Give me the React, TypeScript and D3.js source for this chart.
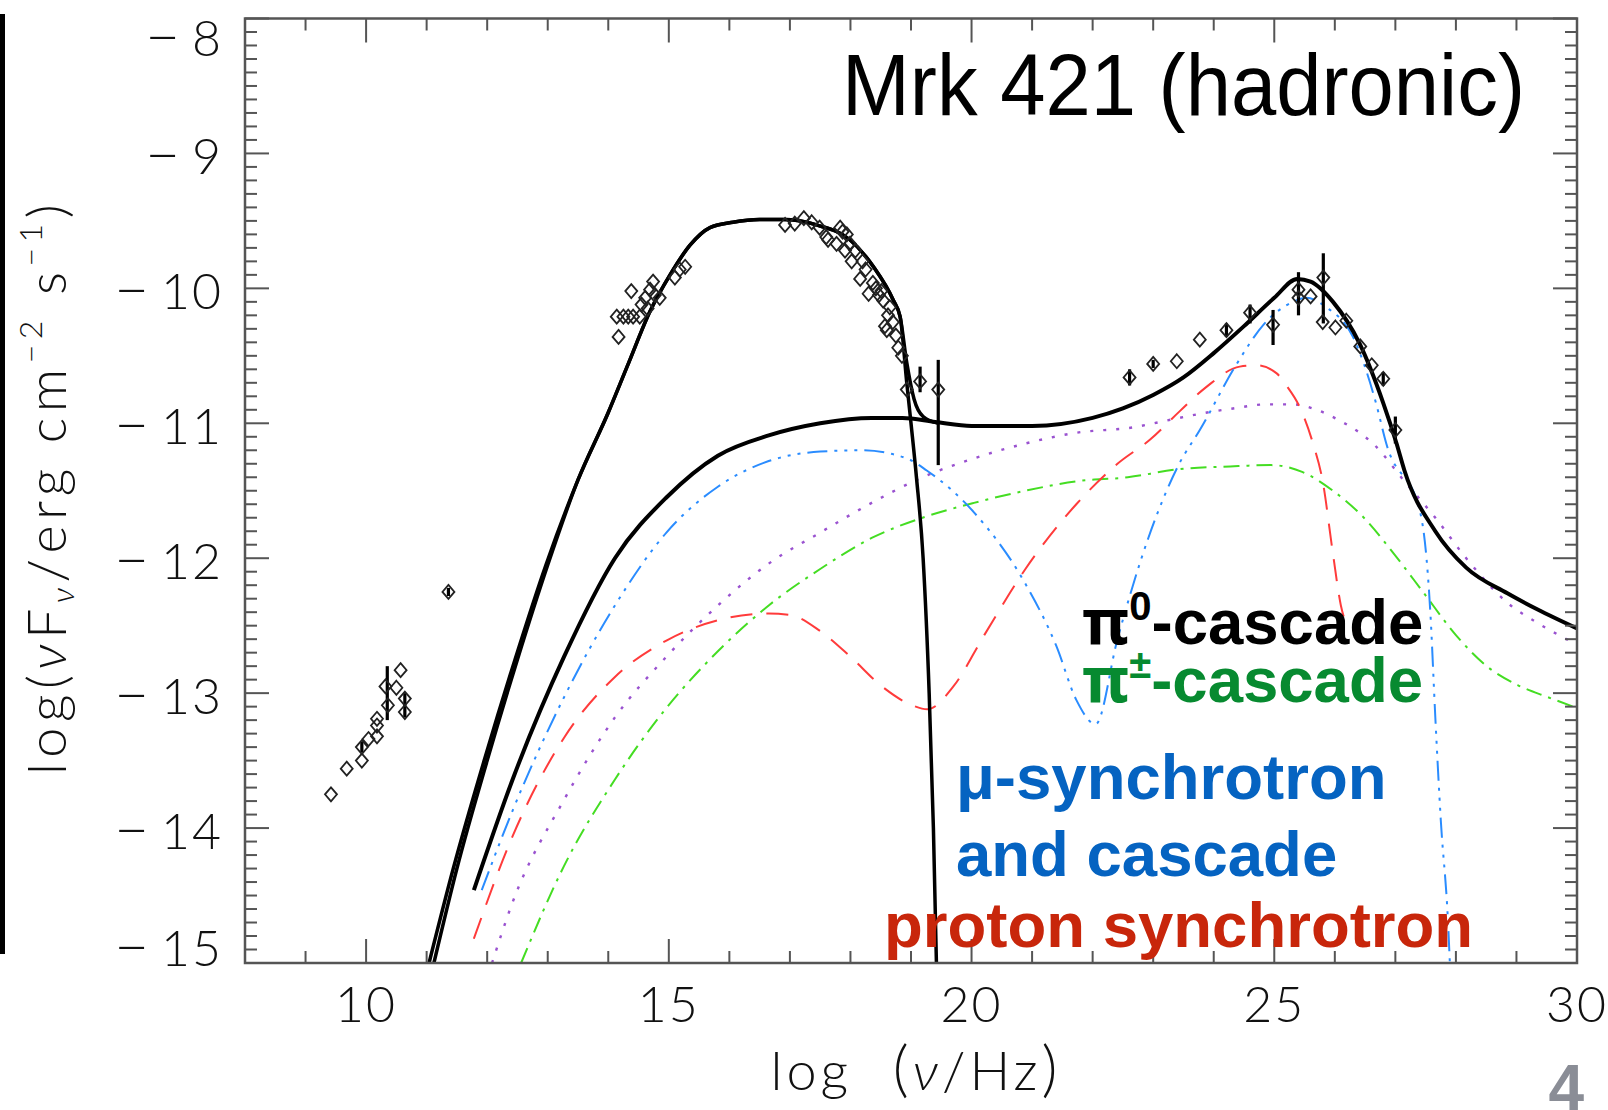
import React from "react";
import * as d3 from "d3";

// ---------- axis setup ----------
const X_DOMAIN: [number, number] = [8, 30];
const Y_DOMAIN: [number, number] = [-15, -8];
const X_MAJOR = [10, 15, 20, 25, 30];
const Y_MAJOR = [-15, -14, -13, -12, -11, -10, -9, -8];

// ---------- model curves [log nu, log nuFnu] ----------
const electronSynchrotron: [number, number][] = [
  [11.12, -15.0], [11.5, -14.3], [12.0, -13.5], [12.5, -12.75], [13.0, -12.05],
  [13.5, -11.42], [14.0, -10.92], [14.33, -10.56], [14.69, -10.17], [15.02, -9.9],
  [15.35, -9.68], [15.68, -9.55], [16.06, -9.51], [16.5, -9.49], [16.89, -9.49],
  [17.44, -9.53], [17.99, -9.64], [18.38, -9.84], [18.71, -10.09], [18.82, -10.21],
  [18.93, -10.7], [19.0, -11.0], [19.09, -11.4], [19.2, -12.0], [19.3, -13.0],
  [19.37, -14.0], [19.42, -15.0],
];
const totalModel: [number, number][] = [
  [11.04, -15.0], [11.44, -14.3], [11.95, -13.5], [12.46, -12.75], [12.97, -12.05],
  [13.5, -11.42], [14.0, -10.92], [14.33, -10.56], [14.69, -10.17], [15.02, -9.9],
  [15.35, -9.68], [15.68, -9.55], [16.06, -9.51], [16.5, -9.49], [16.89, -9.49],
  [17.44, -9.53], [17.99, -9.64], [18.38, -9.84], [18.71, -10.09], [18.82, -10.21],
  [18.93, -10.55], [19.05, -10.82], [19.2, -10.95], [19.45, -11.0],
];
const hadronicTotal: [number, number][] = [
  [11.78, -14.46], [12.42, -13.64], [13.27, -12.73], [14.11, -12.0], [14.96, -11.55],
  [15.81, -11.24], [16.65, -11.09], [17.5, -11.0], [18.35, -10.96], [18.86, -10.96],
  [19.4, -10.99], [20.0, -11.02], [21.0, -11.02], [22.0, -10.96], [22.5, -10.89],
  [23.0, -10.79], [23.5, -10.66], [24.0, -10.48], [24.5, -10.28], [25.0, -10.07],
  [25.38, -9.93], [25.6, -9.95], [25.97, -10.1], [26.41, -10.41], [26.8, -10.85],
  [27.02, -11.15], [27.15, -11.35], [27.66, -11.8], [28.17, -12.07], [28.85, -12.26],
  [29.35, -12.38], [30.0, -12.52],
];
const muonCascade: [number, number][] = [
  [11.91, -14.46], [12.42, -13.87], [13.27, -13.03], [14.11, -12.35], [14.96, -11.81],
  [15.81, -11.47], [16.65, -11.28], [17.5, -11.21], [18.18, -11.2], [18.93, -11.26],
  [19.26, -11.35], [20.04, -11.66], [20.89, -12.19], [21.4, -12.65], [21.73, -13.05],
  [22.05, -13.23], [22.41, -12.6], [22.92, -11.85], [23.43, -11.3], [23.77, -11.05],
  [24.38, -10.56], [24.82, -10.27], [25.31, -10.1], [25.53, -10.07], [25.86, -10.14],
  [26.3, -10.36], [26.68, -10.85], [26.85, -11.15], [27.41, -11.66], [27.58, -12.42],
  [27.66, -13.18], [27.75, -13.94], [27.87, -14.7], [27.9, -15.0],
];
const protonSynchrotron: [number, number][] = [
  [11.78, -14.82], [12.42, -14.06], [13.27, -13.33], [14.11, -12.88], [14.96, -12.61],
  [15.81, -12.46], [16.65, -12.41], [17.0, -12.42], [17.5, -12.54], [18.0, -12.73],
  [18.52, -12.95], [19.02, -13.09], [19.27, -13.12], [19.7, -12.95], [20.21, -12.57],
  [20.89, -12.08], [21.73, -11.6], [22.41, -11.3], [22.95, -11.12], [23.44, -10.91],
  [23.88, -10.73], [24.43, -10.58], [24.71, -10.57], [25.04, -10.63], [25.2, -10.72],
  [25.42, -10.88], [25.64, -11.15], [25.8, -11.43], [25.97, -11.97], [26.1, -12.35],
  [26.2, -12.5],
];
const cascadeDotted: [number, number][] = [
  [12.08, -15.0], [12.42, -14.55], [13.27, -13.79], [14.11, -13.18], [14.96, -12.73],
  [15.81, -12.35], [16.65, -12.04], [17.5, -11.81], [18.35, -11.59], [19.19, -11.4],
  [20.04, -11.26], [20.89, -11.15], [21.73, -11.07], [22.67, -11.03], [23.22, -10.98],
  [23.77, -10.93], [24.32, -10.89], [24.87, -10.86], [25.31, -10.86], [25.7, -10.9],
  [26.08, -10.98], [26.41, -11.07], [26.63, -11.15], [27.15, -11.43], [27.66, -11.7],
  [28.17, -12.0], [28.85, -12.33], [29.35, -12.48], [30.0, -12.64],
];
const chargedPionCascade: [number, number][] = [
  [12.56, -15.0], [13.27, -14.28], [14.11, -13.64], [14.96, -13.11], [15.81, -12.69],
  [16.65, -12.35], [17.5, -12.08], [18.35, -11.85], [19.19, -11.7], [20.04, -11.59],
  [20.89, -11.5], [21.73, -11.43], [22.58, -11.4], [23.43, -11.34], [24.27, -11.32],
  [24.95, -11.31], [25.46, -11.36], [25.97, -11.5], [26.48, -11.7], [26.98, -11.97],
  [27.49, -12.27], [28.0, -12.57], [28.51, -12.8], [29.02, -12.94], [29.52, -13.03],
  [30.0, -13.11],
];

// ---------- observations [log nu, log nuFnu] ----------
const radioPoints: [number, number][] = [
  [9.42, -13.75], [9.68, -13.56], [9.93, -13.5], [9.93, -13.4], [10.04, -13.34],
  [10.18, -13.32], [10.18, -13.24], [10.18, -13.19], [10.36, -13.09], [10.32, -12.95],
  [10.5, -12.96], [10.57, -12.83], [10.64, -13.04], [10.64, -13.14], [11.36, -12.25],
];
const opticalPoints: [number, number][] = [
  [14.14, -10.21], [14.17, -10.36], [14.25, -10.21], [14.33, -10.21], [14.41, -10.21],
  [14.52, -10.21], [14.38, -10.02], [14.55, -10.12], [14.61, -10.07], [14.69, -10.01],
  [14.74, -9.95], [14.77, -10.05], [14.85, -10.07], [14.65, -10.15], [15.1, -9.92],
  [15.18, -9.86], [15.27, -9.84],
];
const xrayPoints: [number, number][] = [
  [16.92, -9.53], [17.08, -9.52], [17.23, -9.48], [17.36, -9.51], [17.49, -9.55],
  [17.6, -9.62], [17.63, -9.64], [17.77, -9.67], [17.83, -9.55], [17.87, -9.58],
  [17.91, -9.72], [17.94, -9.6], [17.99, -9.67], [18.02, -9.8], [18.08, -9.72],
  [18.16, -9.93], [18.2, -9.8], [18.25, -9.86], [18.3, -10.04], [18.37, -9.96],
  [18.42, -10.0], [18.47, -10.05], [18.51, -10.02], [18.54, -10.09], [18.57, -10.28],
  [18.6, -10.31], [18.62, -10.2], [18.65, -10.14], [18.7, -10.25], [18.75, -10.35],
  [18.79, -10.44], [18.85, -10.5], [18.93, -10.75], [19.15, -10.69], [19.45, -10.75],
];
const gammaPoints: [number, number][] = [
  [22.61, -10.66], [23.0, -10.56], [23.39, -10.54], [23.77, -10.38], [24.21, -10.31],
  [24.6, -10.18], [24.98, -10.27], [25.4, -10.01], [25.4, -10.07], [25.6, -10.06],
  [25.81, -9.92], [25.8, -10.25], [26.01, -10.29], [26.19, -10.24], [26.42, -10.43],
  [26.61, -10.57], [26.8, -10.67], [27.0, -11.05],
];
// error bars [log nu, low, high]
const errorBars: [number, number, number][] = [
  [10.35, -13.2, -12.8], [9.93, -13.44, -13.36], [10.64, -13.18, -13.0],
  [11.36, -12.28, -12.22], [19.15, -10.77, -10.58], [19.45, -11.31, -10.53],
  [22.61, -10.72, -10.6], [23.0, -10.59, -10.53], [24.21, -10.36, -10.26],
  [24.6, -10.26, -10.12], [24.98, -10.42, -10.16], [25.4, -10.2, -9.88],
  [25.81, -10.26, -9.74], [26.8, -10.72, -10.62], [27.0, -11.15, -10.95],
];

// ---------- texts ----------
const TITLE = "Mrk 421 (hadronic)";
const LEGEND: { label: string; sup?: string; rest?: string; color: string }[] = [
  { label: "π", sup: "0", rest: "-cascade", color: "#000000" },
  { label: "π", sup: "±", rest: "-cascade", color: "#078a30" },
  { label: "μ-synchrotron", color: "#0563c1" },
  { label: "and cascade", color: "#0563c1" },
  { label: "proton synchrotron", color: "#c8260b" },
];

const W = 1608;
const H = 1110;
const PL = 245, PR = 1577, PT = 18.5, PB = 963;

const tickFont = "Lato, 'DejaVu Sans', sans-serif";
const boldFont = "'Liberation Sans', Arial, sans-serif";

export default function App() {
  const x = d3.scaleLinear().domain(X_DOMAIN).range([PL, PR]);
  const y = d3.scaleLinear().domain(Y_DOMAIN).range([PB, PT]);
  const line = d3
    .line<[number, number]>()
    .x((d) => x(d[0]))
    .y((d) => y(d[1]))
    .curve(d3.curveMonotoneX);

  const xMinor = d3.range(X_DOMAIN[0], X_DOMAIN[1] + 1, 1).filter((v) => !X_MAJOR.includes(v));
  const yMinor = d3
    .range(Y_DOMAIN[0] * 10, Y_DOMAIN[1] * 10 + 1, 1)
    .filter((v) => v % 10 !== 0)
    .map((v) => v / 10);

  const axisColor = "#555";
  const majorLen = 24, minorLen = 12;

  const diamond = "M0,-7L6,0L0,7L-6,0Z";
  const allPoints = [...radioPoints, ...opticalPoints, ...xrayPoints, ...gammaPoints];

  const legendBaselines = [644, 702, 799, 876, 947];
  const legendX = [1082, 1082, 956, 956, 884];

  return (
    <svg
      width={W}
      height={H}
      style={{ position: "absolute", left: 0, top: 0, background: "#fff" }}
      xmlns="http://www.w3.org/2000/svg"
    >
      <rect x={0} y={0} width={W} height={H} fill="#fff" />
      {/* left black bar (slide artifact) */}
      <rect x={0} y={14} width={5} height={940} fill="#000" />

      {/* model curves */}
      <path d={line(chargedPionCascade) || ""} fill="none" stroke="#44dd22" strokeWidth={2}
        strokeDasharray="16 7 3 7" />
      <path d={line(cascadeDotted) || ""} fill="none" stroke="#9a52d0" strokeWidth={2.4}
        strokeDasharray="3 10" />
      <path d={line(protonSynchrotron) || ""} fill="none" stroke="#ff3b3b" strokeWidth={2}
        strokeDasharray="22 14" />
      <path d={line(muonCascade) || ""} fill="none" stroke="#2a8cff" strokeWidth={2}
        strokeDasharray="20 7 3 7 3 7 3 7" />
      <path d={line(hadronicTotal) || ""} fill="none" stroke="#000" strokeWidth={4} />
      <path d={line(electronSynchrotron) || ""} fill="none" stroke="#000" strokeWidth={3.5} />
      <path d={line(totalModel) || ""} fill="none" stroke="#000" strokeWidth={3.5} />

      {/* data */}
      {errorBars.map((e, i) => (
        <line key={"e" + i} x1={x(e[0])} x2={x(e[0])} y1={y(e[1])} y2={y(e[2])} stroke="#000" strokeWidth={3.2} />
      ))}
      {allPoints.map((p, i) => (
        <path key={"p" + i} d={diamond} transform={`translate(${x(p[0])},${y(p[1])})`} fill="none"
          stroke="#222" strokeWidth={1.8} />
      ))}

      {/* frame */}
      <rect x={PL} y={PT} width={PR - PL} height={PB - PT} fill="none" stroke={axisColor} strokeWidth={2.5} />
      {X_MAJOR.map((v) => (
        <g key={"xm" + v}>
          <line x1={x(v)} x2={x(v)} y1={PB} y2={PB - majorLen} stroke={axisColor} strokeWidth={2} />
          <line x1={x(v)} x2={x(v)} y1={PT} y2={PT + majorLen} stroke={axisColor} strokeWidth={2} />
          <text x={x(v)} y={1022} textAnchor="middle" fontFamily={tickFont} fontWeight={300} fontSize={50}
            fill="#111" letterSpacing={2}>
            {v}
          </text>
        </g>
      ))}
      {xMinor.map((v) => (
        <g key={"xn" + v}>
          <line x1={x(v)} x2={x(v)} y1={PB} y2={PB - minorLen} stroke={axisColor} strokeWidth={2} />
          <line x1={x(v)} x2={x(v)} y1={PT} y2={PT + minorLen} stroke={axisColor} strokeWidth={2} />
        </g>
      ))}
      {Y_MAJOR.map((v) => {
        const by = Math.min(Math.max(y(v) + 21, PT + 37), PB + 3);
        return (
          <g key={"ym" + v}>
            <line x1={PL} x2={PL + majorLen} y1={y(v)} y2={y(v)} stroke={axisColor} strokeWidth={2} />
            <line x1={PR} x2={PR - majorLen} y1={y(v)} y2={y(v)} stroke={axisColor} strokeWidth={2} />
            <text x={223} y={by} textAnchor="end" fontFamily={tickFont} fontWeight={300} fontSize={50} fill="#111">
              <tspan fontSize={60} dy={2}>−</tspan>
              <tspan dx={12} dy={-2} letterSpacing={2}>{Math.abs(v)}</tspan>
            </text>
          </g>
        );
      })}
      {yMinor.map((v) => (
        <g key={"yn" + v}>
          <line x1={PL} x2={PL + minorLen} y1={y(v)} y2={y(v)} stroke={axisColor} strokeWidth={2} />
          <line x1={PR} x2={PR - minorLen} y1={y(v)} y2={y(v)} stroke={axisColor} strokeWidth={2} />
        </g>
      ))}

      {/* axis titles */}
      <text x={916} y={1090} textAnchor="middle" fontFamily={tickFont} fontWeight={300} fontSize={54} fill="#111"
        letterSpacing={4}>
        log <tspan dx={22} fontSize={62}>(</tspan><tspan fontStyle="italic">ν</tspan>/Hz<tspan fontSize={62}>)</tspan>
      </text>
      <text transform="translate(66,487) rotate(-90)" textAnchor="middle" fontFamily={tickFont} fontWeight={300}
        fontSize={54} fill="#111" letterSpacing={5.5}>
        log(<tspan fontStyle="italic">ν</tspan>F<tspan fontSize={32} dy={8} fontStyle="italic">ν</tspan>
        <tspan dy={-8}>/erg cm</tspan>
        <tspan fontSize={32} dy={-24}>−2</tspan>
        <tspan dy={24}> s</tspan>
        <tspan fontSize={32} dy={-24}>−1</tspan>
        <tspan dy={24}>)</tspan>
      </text>

      {/* title */}
      <g transform="translate(1525,115) scale(0.925,1)">
        <text x={0} y={0} textAnchor="end" fontFamily={boldFont} fontSize={88} fill="#000">
          {TITLE}
        </text>
      </g>

      {/* legend */}
      {LEGEND.map((l, i) => (
        <text key={"l" + i} x={legendX[i]} y={legendBaselines[i]} fontFamily={boldFont}
          fontWeight="bold" fontSize={63.5} fill={l.color}>
          {l.sup ? <tspan fontFamily="'Noto Sans', 'DejaVu Sans', sans-serif">{l.label}</tspan> : l.label}
          {l.sup && (
            <tspan fontSize={40} dy={-24}>{l.sup}</tspan>
          )}
          {l.rest && <tspan dy={24}>{l.rest}</tspan>}
        </text>
      ))}

      {/* slide number */}
      <text x={1584} y={1110} textAnchor="end" fontFamily={boldFont} fontWeight="bold"
        fontSize={64} fill="#8a8d96">
        4
      </text>
    </svg>
  );
}
